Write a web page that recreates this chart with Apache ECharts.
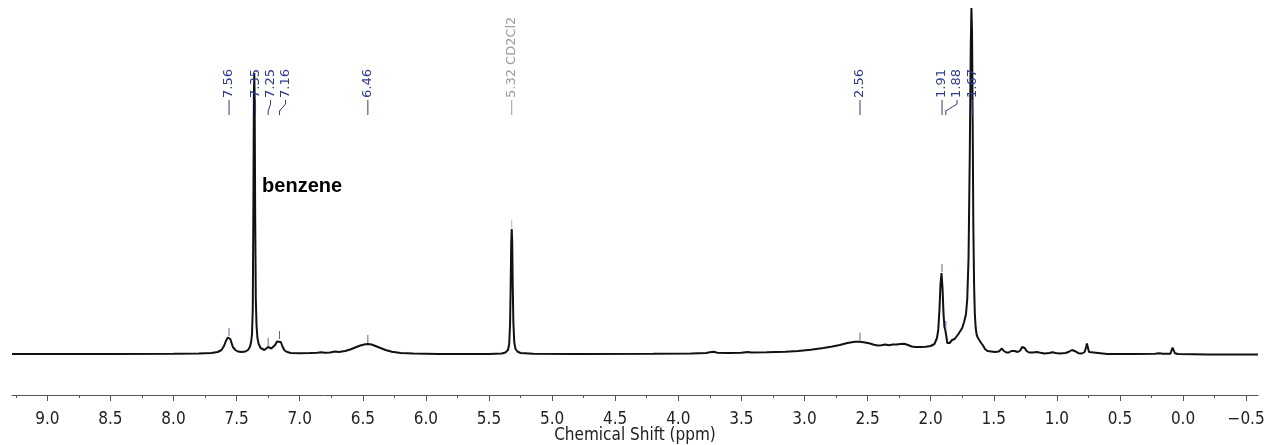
<!DOCTYPE html>
<html><head><meta charset="utf-8">
<script src="https://cdn.jsdelivr.net/npm/echarts@6/dist/echarts.min.js"></script>
<style>html,body{margin:0;padding:0;background:#fff}#c{width:1264px;height:445px}</style>
</head><body><div id="c"></div>
<script>
// ---- data: [chemical shift (ppm), intensity] ----
const spectrum = [
  [9.28,0],[9.0,0],[8.5,0],[8.0,0.3],[7.8,0.5],[7.70,1],[7.65,2],[7.62,4],[7.60,8],[7.585,13],
  [7.57,16.5],[7.56,17],[7.55,15],[7.54,11],[7.53,7],[7.51,4],[7.49,2.5],[7.46,2],[7.43,2.5],[7.41,4],
  [7.395,7],[7.385,12],[7.378,20],[7.372,45],[7.367,150],[7.363,260],[7.36,281],[7.357,255],[7.353,140],[7.348,55],
  [7.342,28],[7.335,16],[7.325,10],[7.31,6],[7.295,4.5],[7.28,4],[7.265,5.5],[7.25,7],[7.238,6.5],[7.225,5.5],
  [7.21,6.5],[7.195,9],[7.18,12.5],[7.165,14],[7.15,12],[7.135,7],[7.12,3.5],[7.10,2],[7.07,1],[7.0,0.8],
  [6.92,1],[6.86,1.2],[6.83,1.8],[6.80,1.3],[6.76,1.5],[6.72,2.5],[6.69,2],[6.64,3],[6.60,4.5],[6.56,6.5],
  [6.52,8.5],[6.48,9.8],[6.46,10],[6.43,9.5],[6.40,8],[6.36,6],[6.32,4],[6.27,2.2],[6.20,1],[6.10,0.4],
  [5.90,0],[5.50,0],[5.40,0.5],[5.37,1.5],[5.35,4],[5.34,10],[5.333,30],[5.328,70],[5.324,110],[5.32,125],
  [5.316,112],[5.312,70],[5.307,32],[5.30,12],[5.29,5],[5.275,2.5],[5.25,1],[5.15,0.3],[4.80,0],[4.20,0.3],
  [3.90,0.6],[3.78,1],[3.75,1.8],[3.72,2.3],[3.69,1.3],[3.60,1],[3.50,1.2],[3.45,1.9],[3.42,1.5],[3.30,1.8],
  [3.15,2.3],[3.05,3],[2.95,4.2],[2.85,6],[2.78,7.5],[2.72,9],[2.66,11],[2.60,12.3],[2.56,12.2],[2.52,11.5],
  [2.48,10.5],[2.45,9.3],[2.42,8.5],[2.39,8.7],[2.36,9.5],[2.33,8.8],[2.30,9.4],[2.27,9.6],[2.24,10],[2.21,10.2],
  [2.18,9],[2.15,7.5],[2.12,7],[2.08,7],[2.04,7.3],[2.00,8],[1.97,10],[1.95,16],[1.94,24],[1.93,45],
  [1.922,70],[1.914,81],[1.906,66],[1.898,40],[1.891,27],[1.884,24],[1.876,18],[1.868,11],[1.86,9.5],[1.85,11],
  [1.84,13],[1.83,14],[1.822,12],[1.81,15],[1.795,17],[1.78,20],[1.765,22],[1.75,26],[1.735,32],[1.72,40],
  [1.71,55],[1.70,95],[1.69,200],[1.682,310],[1.677,346],[1.672,320],[1.667,230],[1.662,130],[1.656,70],[1.65,40],
  [1.643,26],[1.635,19],[1.625,16],[1.615,14],[1.60,11],[1.585,8.5],[1.57,5],[1.55,3],[1.52,2.5],[1.49,2],
  [1.46,2.5],[1.445,4.5],[1.435,5.5],[1.42,3],[1.40,1.5],[1.38,1.5],[1.36,3],[1.348,4.5],[1.335,3],[1.31,2],
  [1.29,3.5],[1.275,7],[1.265,8.5],[1.255,6],[1.24,3],[1.22,1.5],[1.19,1.5],[1.16,2],[1.13,1.2],[1.10,0.6],
  [1.06,1],[1.035,1.8],[1.01,1],[0.98,0.6],[0.93,1],[0.90,2.5],[0.88,4],[0.865,4.5],[0.85,2.5],[0.83,0.8],
  [0.80,0.5],[0.78,2],[0.768,7],[0.762,10.5],[0.755,7],[0.745,2],[0.73,0.3],[0.60,0],[0.40,0],[0.22,0.3],
  [0.19,0.8],[0.16,0.3],[0.10,0.3],[0.09,2],[0.083,6.5],[0.075,4],[0.065,0.8],[0.04,0],[-0.2,-0.5],[-0.594,-0.5]
];

const peakPpm = [7.56,7.35,7.25,7.16,6.46,5.32,2.56,1.91,1.88,1.67];
const peakLabels = ['7.56','7.35','7.25','7.16','6.46','5.32 CD2Cl2','2.56','1.91','1.88','1.67'];
const peakHeights = [17,281,7,14,10,125,12.3,81,24,346];
const peakIsSolvent = [false,false,false,false,false,true,false,false,false,false];

const annotationText = ['benzene'];
const annotationPpm = [7.298];
const annotationHeight = [168];

const majorTickValues = [9.0,8.5,8.0,7.5,7.0,6.5,6.0,5.5,5.0,4.5,4.0,3.5,3.0,2.5,2.0,1.5,1.0,0.5,0.0,-0.5];
const tickLabels = ['9.0','8.5','8.0','7.5','7.0','6.5','6.0','5.5','5.0','4.5','4.0','3.5','3.0','2.5','2.0','1.5','1.0','0.5','0.0','\u22120.5'];
const minorTickValues = [9.25,8.75,8.25,7.75,7.25,6.75,6.25,5.75,5.25,4.75,4.25,3.75,3.25,2.75,2.25,1.75,1.25,0.75,0.25,-0.25];

const axisTitle = 'Chemical Shift (ppm)';
// ------------------------------------------------

const PEAK_BLUE = '#2d3b94';
const MARK_BLUE = '#5565b0';
const SOLVENT_GREY = '#9c9c9c';
const LABEL_FONT = '13px "DejaVu Sans"';

function labelPositions(api) {
  const xs = peakPpm.map(p => api.coord([p, 0])[0]);
  const order = xs.map((x, i) => i).sort((a, b) => xs[a] - xs[b]);
  const out = new Array(xs.length);
  let prev = -1e9;
  order.forEach(i => {
    const lx = Math.max(xs[i], prev + 15);
    out[i] = lx; prev = lx;
  });
  return { xs, out };
}

const chart = echarts.init(document.getElementById('c'), null, { renderer: 'canvas', width: 1264, height: 445 });
chart.setOption({
  animation: false,
  backgroundColor: '#ffffff',
  grid: { left: 12, right: 6, top: 8, bottom: 50, containLabel: false, outerBoundsMode: 'none' },
  xAxis: [{
    type: 'value', inverse: true, min: -0.594, max: 9.28,
    position: 'bottom',
    axisLine: { show: true, onZero: false, lineStyle: { color: '#555', width: 1 } },
    axisTick: { show: true, customValues: majorTickValues, length: 6, lineStyle: { color: '#555', width: 1 } },
    axisLabel: {
      show: true, customValues: majorTickValues, margin: 16,
      color: '#222', fontFamily: 'DejaVu Sans Condensed', fontSize: 17,
      formatter: v => { const i = majorTickValues.findIndex(t => Math.abs(t - v) < 1e-6); return i >= 0 ? tickLabels[i] : ''; }
    },
    splitLine: { show: false },
    name: axisTitle, nameLocation: 'middle', nameGap: 32, nameMoveOverlap: false,
    nameTextStyle: { color: '#222', fontFamily: 'DejaVu Sans Condensed', fontSize: 17, lineHeight: 17 }
  }, {
    type: 'value', inverse: true, min: -0.594, max: 9.28,
    position: 'bottom',
    axisLine: { show: false, onZero: false },
    axisTick: { show: true, customValues: minorTickValues, length: 3, lineStyle: { color: '#555', width: 1 } },
    axisLabel: { show: false },
    splitLine: { show: false }
  }],
  yAxis: { type: 'value', min: -41, max: 346, show: false, splitLine: { show: false } },
  series: [{
    type: 'line', data: spectrum, showSymbol: false, symbol: 'none',
    lineStyle: { color: '#111', width: 2 }, clip: true, z: 3, silent: true
  }, {
    type: 'custom', coordinateSystem: 'cartesian2d', clip: false, silent: true, z: 4,
    data: peakPpm.map((p, i) => [p, peakHeights[i]]),
    renderItem: (params, api) => {
      const i = params.dataIndex;
      const { xs, out } = labelPositions(api);
      const px = xs[i], lx = out[i];
      const col = peakIsSolvent[i] ? SOLVENT_GREY : PEAK_BLUE;
      const children = [{
        type: 'text', x: lx, y: 98, rotation: Math.PI / 2,
        style: { text: peakLabels[i], fill: col, font: LABEL_FONT, align: 'left', verticalAlign: 'middle' }
      }, {
        type: 'polyline',
        shape: { points: Math.abs(lx - px) < 0.5 ? [[lx, 100], [lx, 115]] : [[lx, 100], [lx, 104], [px, 111], [px, 115]] },
        style: { stroke: col, lineWidth: 1, fill: null }
      }];
      const top = api.coord([peakPpm[i], peakHeights[i]])[1];
      if (top - 9 > 120) {
        children.push({ type: 'line', shape: { x1: px, y1: top - 1, x2: px, y2: top - 9 },
          style: { stroke: peakIsSolvent[i] ? '#bbbbbb' : MARK_BLUE, lineWidth: 1 } });
      }
      return { type: 'group', children };
    }
  }, {
    type: 'custom', coordinateSystem: 'cartesian2d', clip: false, silent: true, z: 5,
    data: annotationPpm.map((p, i) => [p, annotationHeight[i]]),
    renderItem: (params, api) => {
      const c = api.coord([api.value(0), api.value(1)]);
      return { type: 'text', x: c[0], y: c[1],
        style: { text: annotationText[params.dataIndex], fill: '#000', font: 'bold 20px "Liberation Sans"', align: 'left', verticalAlign: 'middle' } };
    }
  }]
});
</script>
</body></html>
